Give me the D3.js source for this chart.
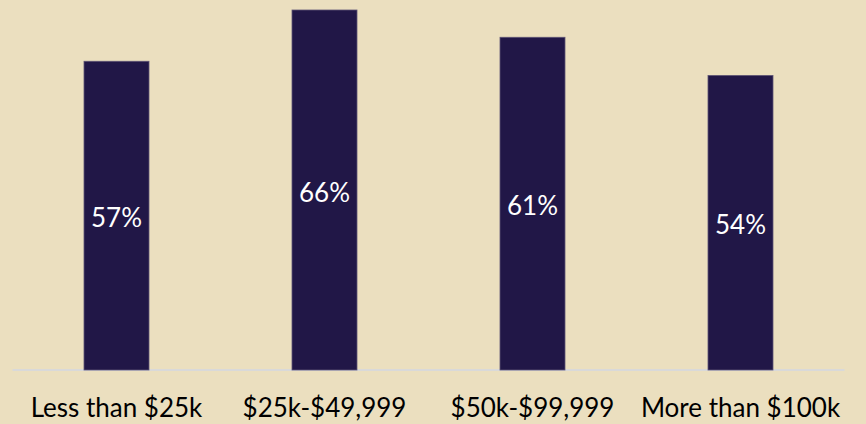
<!DOCTYPE html>
<html><head><meta charset="utf-8">
<script src="https://cdn.jsdelivr.net/npm/d3@7"></script>
<style>html,body{margin:0;padding:0;background:#EBDFBF;}</style>
</head><body>
<svg id="c" width="866" height="424"></svg>
<script>
const categories = ["Less than $25k", "$25k-$49,999", "$50k-$99,999", "More than $100k"];
const values = [56.6, 66, 61, 54];
const valueLabels = ["57%", "66%", "61%", "54%"];

const svg = d3.select("#c");
svg.append("rect").attr("width",866).attr("height",424).attr("fill","#EBDFBF");
const x = d3.scaleBand().domain(categories).range([12.5, 844.5]).paddingInner(0.6875).paddingOuter(0.34375);
const y = d3.scaleLinear().domain([0, 66]).range([370, 10]);
const font = "Lato, 'Open Sans', sans-serif";

svg.append("line").attr("x1",12.5).attr("x2",844.5).attr("y1",370).attr("y2",370)
  .attr("stroke","#D9D9D9").attr("stroke-width",2);

svg.selectAll("rect.bar").data(values).join("rect").attr("class","bar")
  .attr("x",(d,i)=>x(categories[i])).attr("width",x.bandwidth())
  .attr("y",d=>y(d)).attr("height",d=>y(0)-y(d))
  .attr("fill","#211747").attr("stroke","#5f5575").attr("stroke-width",0.8);

svg.selectAll("text.val").data(values).join("text").attr("class","val")
  .attr("x",(d,i)=>x(categories[i])+x.bandwidth()/2)
  .attr("y",d=>(y(d)+y(0))/2 + 11.5)
  .attr("text-anchor","middle").attr("fill","#ffffff")
  .style("font-family",font).style("font-size","26px").style("font-weight","400")
  .text((d,i)=>valueLabels[i]);

svg.selectAll("text.cat").data(categories).join("text").attr("class","cat")
  .attr("x",d=>x(d)+x.bandwidth()/2).attr("y",417)
  .attr("text-anchor","middle").attr("fill","#000000")
  .style("font-family",font).style("font-size","26px").style("font-weight","400")
  .text(d=>d);
</script>
</body></html>
